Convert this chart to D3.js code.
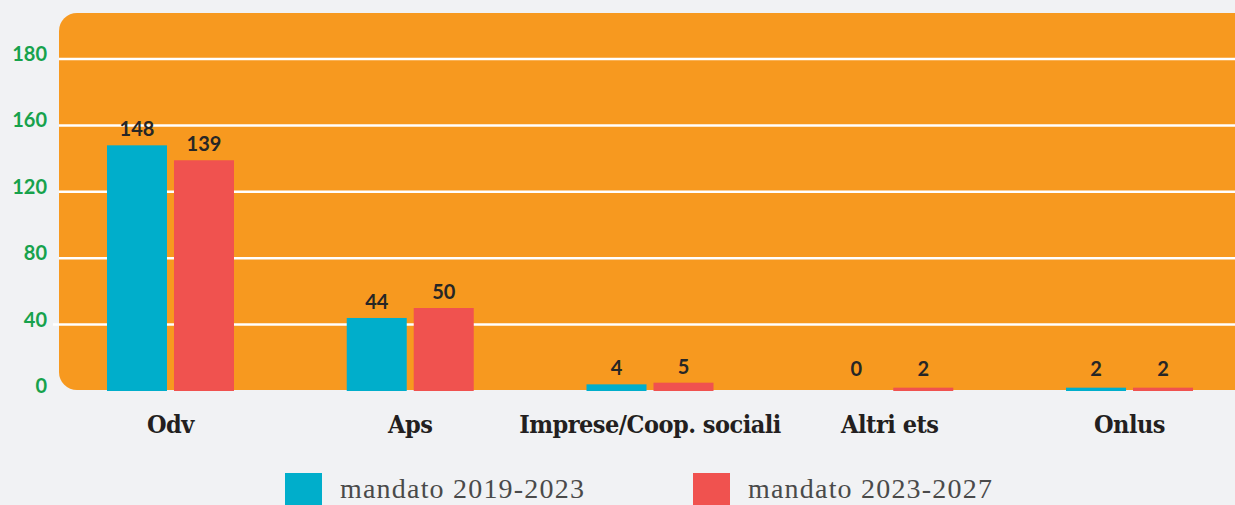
<!DOCTYPE html>
<html>
<head>
<meta charset="utf-8">
<script src="https://cdn.jsdelivr.net/npm/d3@7"></script>
<style>
  html, body { margin: 0; padding: 0; background: #f1f2f4; overflow: hidden; }
  svg { display: block; }
</style>
</head>
<body>
<script>
// data
const categories = ["Odv", "Aps", "Imprese/Coop. sociali", "Altri ets", "Onlus"];
const seriesNames = ["mandato 2019-2023", "mandato 2023-2027"];
const mandato2019 = [148, 44, 4, 0, 2];
const mandato2023 = [139, 50, 5, 2, 2];
const tickValues = [0, 40, 80, 120, 160, 200];
const tickLabels = ["0", "40", "80", "120", "160", "180"];
const colors = ["#00aecb", "#f0524f"];

const W = 1235, H = 505;

const svg = d3.select("body").append("svg")
    .attr("width", W)
    .attr("height", H);

//**** PLOT BACKGROUND */
const plot = { left: 59, top: 13, bottom: 390 };
svg.append("rect")
    .attr("x", plot.left)
    .attr("y", plot.top)
    .attr("width", 1240)
    .attr("height", plot.bottom - plot.top)
    .attr("rx", 18)
    .attr("fill", "#f7991f");

//**** SCALES */
const x0 = d3.scaleBand().domain(categories).range([50.6, 1249.4]);
const y = d3.scaleLinear().domain([0, 200]).range([391, 59]);
const barW = 60, gap = 7;

//******* GRID */
const grid_g = svg.append("g").attr("class", "grid");
grid_g.selectAll("line")
    .data(tickValues.filter(d => d > 0))
    .join("line")
    .attr("x1", d => d === 40 ? 53 : plot.left)
    .attr("x2", W)
    .attr("y1", d => y(d))
    .attr("y2", d => y(d))
    .attr("stroke", "#fff")
    .attr("stroke-width", 2.5);

//******** Y AXIS LABELS */
const yAxis = d3.axisLeft(y)
    .tickValues(tickValues)
    .tickFormat((d, i) => tickLabels[i])
    .tickSize(0)
    .tickPadding(0);
const axis_g = svg.append("g")
    .attr("transform", "translate(47,-5)")
    .call(yAxis);
axis_g.select(".domain").remove();
axis_g.selectAll("text")
    .attr("fill", "#17a24c")
    .style("font-family", "Lato, 'Open Sans', sans-serif")
    .style("font-weight", 700)
    .style("font-size", "20px");

//******** BARS */
const rows = categories.map((c, i) => ({ cat: c, vals: [mandato2019[i], mandato2023[i]] }));
const groups = svg.append("g").attr("class", "bars")
    .selectAll("g")
    .data(rows)
    .join("g")
    .attr("transform", d => "translate(" + (x0(d.cat) + x0.bandwidth() / 2 - barW - gap / 2) + ",0)");

groups.selectAll("rect")
    .data(d => d.vals)
    .join("rect")
    .attr("x", (d, i) => i * (barW + gap))
    .attr("y", d => y(d))
    .attr("width", barW)
    .attr("height", d => y(0) - y(d))
    .attr("fill", (d, i) => colors[i]);

groups.selectAll("text")
    .data(d => d.vals)
    .join("text")
    .attr("x", (d, i) => i * (barW + gap) + barW / 2)
    .attr("y", d => Math.min(y(d), 385) - 9)
    .attr("text-anchor", "middle")
    .attr("fill", "#262626")
    .style("font-family", "Lato, 'Open Sans', sans-serif")
    .style("font-weight", 700)
    .style("font-size", "20px")
    .text(d => d);

//******** CATEGORY LABELS */
svg.append("g").attr("class", "cat_labels")
    .selectAll("text")
    .data(categories)
    .join("text")
    .attr("x", d => x0(d) + x0.bandwidth() / 2)
    .attr("y", 433)
    .attr("text-anchor", "middle")
    .attr("fill", "#231f20")
    .style("font-family", "'DejaVu Serif Condensed', 'DejaVu Serif', serif")
    .style("font-weight", 700)
    .style("font-size", "25px")
    .style("letter-spacing", "-0.5px")
    .text(d => d);

//******** LEGEND */
const legendX = [285, 693];
const legend = svg.append("g").attr("class", "legend")
    .selectAll("g")
    .data(seriesNames)
    .join("g")
    .attr("transform", (d, i) => "translate(" + legendX[i] + ",473)");
legend.append("rect")
    .attr("width", 37)
    .attr("height", 40)
    .attr("fill", (d, i) => colors[i]);
legend.append("text")
    .attr("x", 55)
    .attr("y", 25)
    .attr("fill", "#4a4a4a")
    .style("font-family", "'Liberation Serif', serif")
    .style("font-size", "28px")
    .style("letter-spacing", "1.2px")
    .text(d => d);
</script>
</body>
</html>
